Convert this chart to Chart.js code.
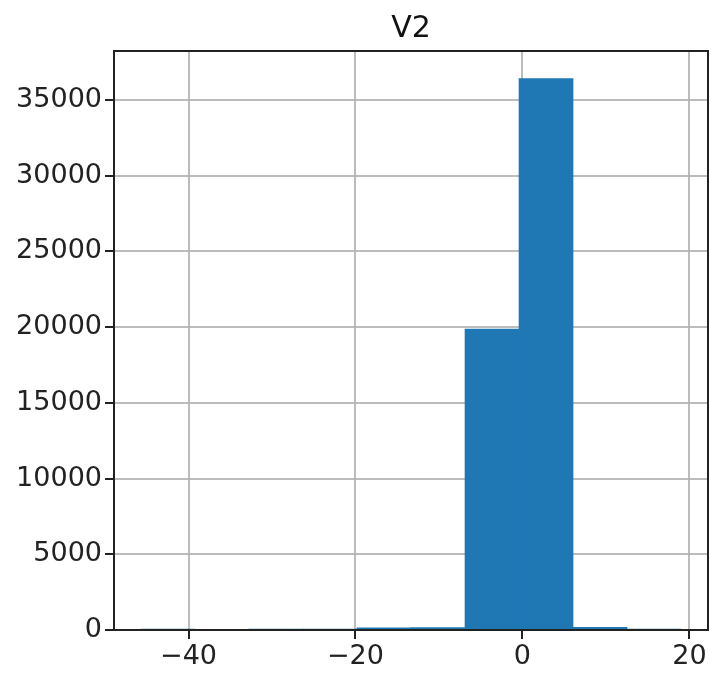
<!DOCTYPE html>
<html>
<head>
<meta charset="utf-8">
<script src="https://cdn.jsdelivr.net/npm/chart.js@4/dist/chart.umd.min.js"></script>
<style>
  html, body { margin: 0; padding: 0; background: #fff; }
  #wrap { width: 710px; height: 674px; }
</style>
</head>
<body>
<div id="wrap"><canvas id="hist"></canvas></div>
<script>
// histogram of V2
const binEdges = [-45.7, -39.23, -32.76, -26.29, -19.82, -13.35, -6.88, -0.41, 6.06, 12.53, 19.0];
const binCounts = [1, 0, 1, 4, 150, 160, 19870, 36400, 170, 3];
const xTicks = [-40, -20, 0, 20];
const yTicks = [0, 5000, 10000, 15000, 20000, 25000, 30000, 35000];
const titleText = 'V2';

const BAR_COLOR = '#1f77b4';
const FONT = "'DejaVu Sans', sans-serif";

const points = binCounts.map((c, i) => ({ x: (binEdges[i] + binEdges[i + 1]) / 2, y: c }));

// top + right spines like matplotlib, title centred over the axes
const frame = {
    id: 'frame',
    afterDraw(chart) {
        const { ctx, chartArea: a } = chart;
        ctx.save();
        ctx.strokeStyle = '#222';
        ctx.lineWidth = 2;
        ctx.strokeRect(a.left, a.top, a.right - a.left, a.bottom - a.top);
        ctx.fillStyle = '#111';
        ctx.font = '30px ' + FONT;
        ctx.textAlign = 'center';
        ctx.textBaseline = 'alphabetic';
        ctx.fillText(titleText, (a.left + a.right) / 2, a.top - 14);
        ctx.restore();
    }
};

new Chart(document.getElementById('hist'), {
    type: 'bar',
    data: {
        datasets: [{
            data: points,
            backgroundColor: BAR_COLOR,
            borderWidth: 0,
            barPercentage: 1,
            categoryPercentage: 1
        }]
    },
    options: {
        responsive: true,
        maintainAspectRatio: false,
        animation: false,
        layout: { padding: { left: 0, right: 2, top: 51, bottom: 0 } },
        plugins: {
            legend: { display: false },
            tooltip: { enabled: false },
            title: { display: false }
        },
        scales: {
            x: {
                type: 'linear',
                min: -48.93,
                max: 22.23,
                offset: false,
                z: 1,
                afterBuildTicks: s => { s.ticks = xTicks.map(v => ({ value: v })); },
                afterFit: s => { s.height = 44; },
                ticks: {
                    color: '#222',
                    font: { family: FONT, size: 27 },
                    padding: 2,
                    maxRotation: 0,
                    callback: v => String(v).replace('-', '\u2212')
                },
                grid: { offset: false, color: 'rgba(176,176,176,0.85)', lineWidth: 2, tickColor: '#222', tickLength: 9 },
                border: { color: '#222', width: 2 }
            },
            y: {
                min: 0,
                max: 38220,
                z: 1,
                afterBuildTicks: s => { s.ticks = yTicks.map(v => ({ value: v })); },
                afterFit: s => { s.width = 114; },
                ticks: {
                    color: '#222',
                    font: { family: FONT, size: 27 },
                    padding: 3,
                    callback: v => String(v)
                },
                grid: { color: 'rgba(176,176,176,0.85)', lineWidth: 2, tickColor: '#222', tickLength: 9 },
                border: { color: '#222', width: 2 }
            }
        }
    },
    plugins: [frame]
});
</script>
</body>
</html>
